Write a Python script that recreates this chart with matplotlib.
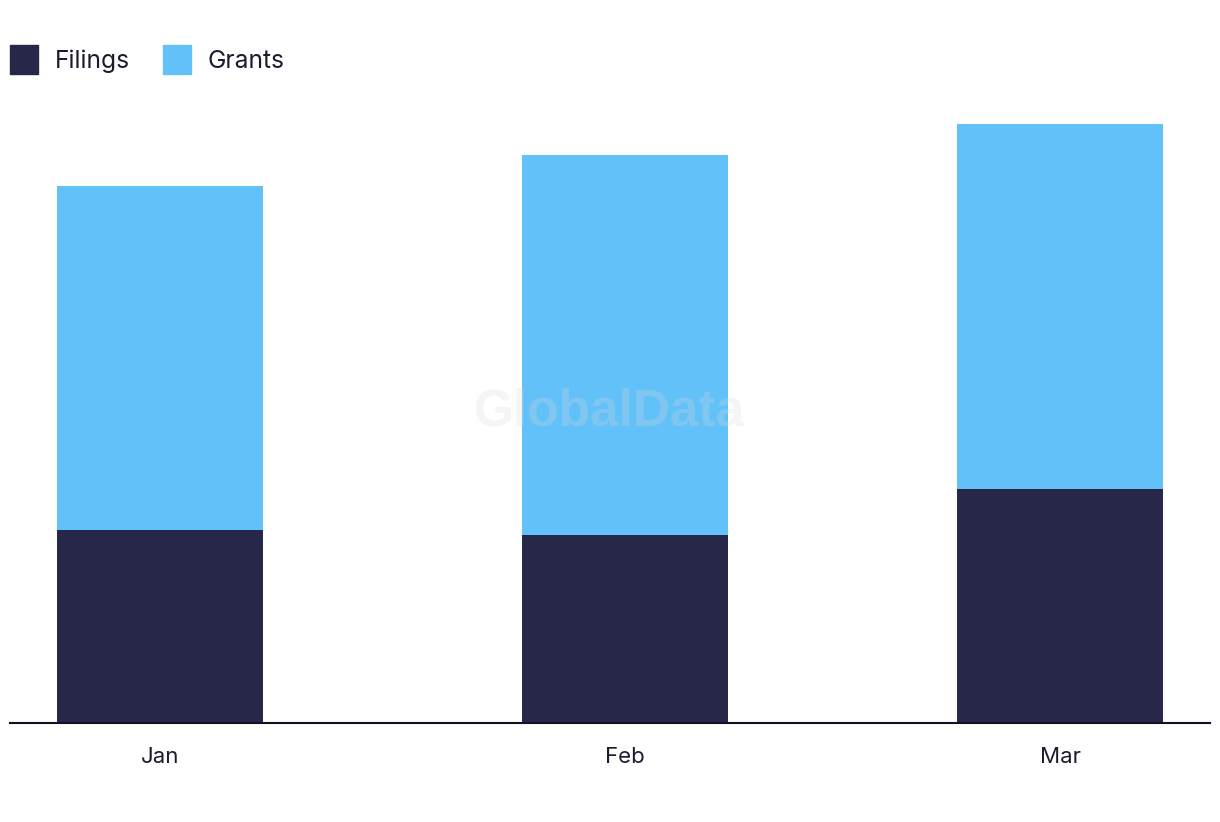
import datetime as dt

import matplotlib
matplotlib.use('Agg')
import matplotlib.pyplot as plt
import matplotlib.dates as mdates
from matplotlib.patches import Patch

# data
months = ['Jan', 'Feb', 'Mar']
month_dates = [dt.date(2024, 1, 1), dt.date(2024, 2, 1), dt.date(2024, 3, 1)]
filings = [193, 188, 234]
grants = [344, 380, 365]

FILING_COLOR = '#272849'
GRANT_COLOR = '#62C1F9'
TEXT_COLOR = '#1c1c2e'

plt.rcParams['font.family'] = ['Inter', 'DejaVu Sans']

fig = plt.figure(figsize=(12.2, 8.22), dpi=100)
ax = fig.add_axes([10 / 1220, (822 - 723) / 822, 1200 / 1220, 623 / 822])

# one day is 15 px here
x = mdates.date2num(month_dates)
width = 13.73
ax.bar(x, filings, width=width, color=FILING_COLOR, label='Filings')
ax.bar(x, grants, width=width, bottom=filings, color=GRANT_COLOR,
       label='Grants')

ax.set_xlim(x[0] - 10, x[-1] + 10)
ax.set_ylim(0, 623)
ax.set_xticks(x)
ax.set_xticklabels(months)
ax.set_yticks([])
ax.tick_params(axis='x', length=0, pad=17, labelsize=16, colors=TEXT_COLOR)

for side in ['top', 'right', 'left']:
    ax.spines[side].set_visible(False)
ax.spines['bottom'].set_color('#111122')
ax.spines['bottom'].set_linewidth(1.5)

# watermark
ax.text(0.5, 0.5, 'GlobalData', transform=ax.transAxes, ha='center',
        va='center', fontsize=37, fontweight='bold', color='#d8d8d8',
        alpha=0.25, family=['Liberation Sans', 'DejaVu Sans'])

handles = [Patch(color=FILING_COLOR), Patch(color=GRANT_COLOR)]
fig.legend(handles, ['Filings', 'Grants'], loc='upper left',
           bbox_to_anchor=(10 / 1220, 1 - 45.5 / 822), ncol=2, frameon=False,
           fontsize=17.7, handlelength=1.12, handleheight=1.4,
           handletextpad=0.7, columnspacing=1.35, borderpad=0,
           borderaxespad=0, labelcolor=TEXT_COLOR)

fig.savefig('out.png', dpi=100)
